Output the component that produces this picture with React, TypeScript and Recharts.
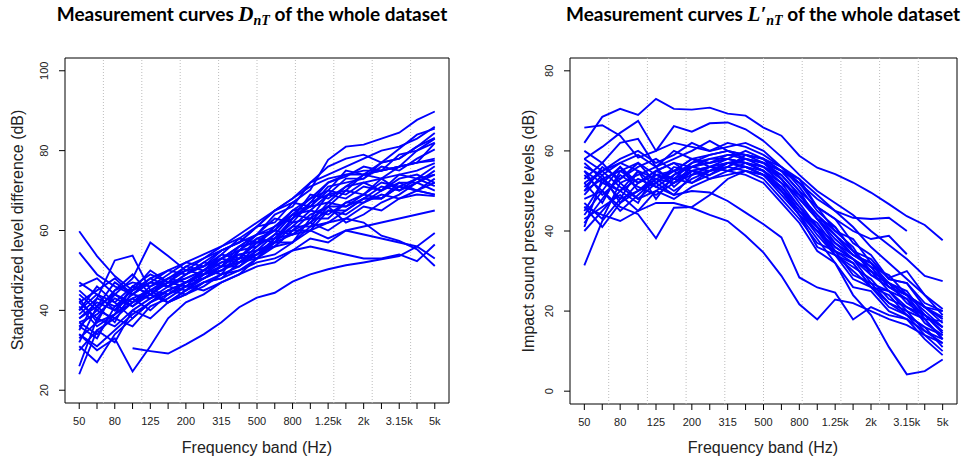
import { LineChart, Line, XAxis, YAxis, ReferenceLine, ReferenceArea } from "recharts";

// frequency bands (1/3 octave) and the ones that get a label
const bands = ["50", "63", "80", "100", "125", "160", "200", "250", "315", "400", "500", "630", "800", "1k", "1.25k", "1.6k", "2k", "2.5k", "3.15k", "4k", "5k"];
const tickLabels = ["50", "80", "125", "200", "315", "500", "800", "1.25k", "2k", "3.15k", "5k"];

const dntTicks = [20, 40, 60, 80, 100];
const lntTicks = [0, 20, 40, 60, 80];

// D_nT curves (dB)
const dnt01 = [44, 40, 45, 47, 46, 48, 50, 53, 56, 58, 61, 65, 67, 70.2, 77.7, 81, 81.5, 83, 84.5, 87.7, 89.8];
const dnt02 = [38, 42, 40, 44, 47, 46, 49, 52, 51, 56, 59, 64, 66, 72, 76, 78, 79, 77, 80.5, 84, 85.5];
const dnt03 = [36, 33, 41, 43, 45, 48, 47, 50, 54, 53, 58, 60, 65, 68, 70, 75, 74, 77, 78, 81, 84.4];
const dnt04 = [40, 44, 42, 46, 44, 47, 50, 51, 55, 57, 59, 63, 62, 67, 72, 73.5, 76, 75, 79, 80, 83];
const dnt05 = [33, 37, 39, 42, 45, 44, 47, 49, 51, 55, 56, 61, 63, 69, 68, 71, 74, 75, 76, 80, 82];
const dnt06 = [45, 41, 47, 44, 48, 50, 49, 52, 55, 57, 61, 62, 67, 66, 71, 72, 73, 76, 75, 78, 80.3];
const dnt07 = [30, 35, 38, 36, 41, 43, 46, 48, 50, 52, 55, 59, 60, 64, 66, 70, 69, 73, 74, 75, 76.9];
const dnt08 = [42, 38, 36, 40, 43, 46, 45, 48, 51, 54, 53, 58, 62, 63, 69, 68, 71, 70, 74, 73, 76.1];
const dnt09 = [37, 39, 43, 41, 45, 47, 48, 50, 49, 55, 58, 57, 63, 66, 67, 71, 72, 70, 73, 74, 71.9];
const dnt10 = [34, 31, 35, 39, 42, 44, 46, 48, 51, 51, 54, 58, 59, 62, 67, 66, 69, 72, 71, 73, 71.1];
const dnt11 = [39, 43, 41, 45, 48, 46, 49, 51, 53, 56, 57, 61, 65, 66, 70, 69, 72, 73, 70, 72, 70];
const dnt12 = [41, 36, 39, 43, 40, 44, 47, 49, 50, 53, 57, 58, 61, 65, 64, 67, 69, 68, 72, 70, 69];
const dnt13 = [36, 40, 38, 42, 44, 42, 45, 47, 49, 51, 55, 56, 60, 62, 65, 64, 67, 69, 68, 69, 68.6];
const dnt14 = [47, 44, 40, 46, 44, 48, 51, 50, 53, 55, 59, 60, 64, 65, 69, 70, 74, 73, 76, 77, 81.9];
const dnt15 = [59.8, 53.6, 48.6, 45, 47, 46, 48, 50, 52, 53, 57, 58, 63, 67, 69, 73, 73, 77, 78, 81, 83.2];
const dnt16 = [54.5, 49, 46, 44, 43, 45, 47, 48, 50, 53, 54, 57, 61, 61, 66, 66, 68, 71, 70, 73, 74];
const dnt17 = [34, 30, 33, 24.7, 31, 38, 42, 44, 47, 49, 53, 54, 57, 61, 62, 65, 68, 68, 71, 70, 73];
const dnt18 = [24, 35, 32, 40, 38, 42, 44, 46, 49, 50, 53, 57, 57, 63, 63, 67, 67, 70, 72, 72, 75];
const dnt19 = [31, 27, 34, 38, 42, 45, 44, 47, 48, 52, 53, 56, 60, 60, 65, 65, 68, 68, 71, 70, 72];
const dnt20 = [38, 41, 44, 48, 57, 53.6, 50, 49, 51, 52, 54, 56, 57, 60, 62, 63, 62, 58.7, 57.4, 55.3, 51.1];
const dnt21 = [35, 43, 52.5, 53.7, 45, 42, 44, 47, 48, 50, 52, 53, 55, 56, 55, 54, 53, 53, 54, 52.3, 56.5];
const dnt22 = [null, null, null, 30.5, 29.8, 29.2, 31.5, 34, 37, 40.8, 43.2, 44.4, 47.2, 49, 50.3, 51.3, 52, 52.8, 53.6, 56, 59.4];
const dnt23 = [43, 37, 45, 49, 44, 47, 46, 45, 47, 49, 51, 52, 55, 58, 57, 60, 59, 58, 57, 56, 53];
const dnt24 = [26, 38, 44, 42, 46, 49, 52, 54, 56, 59, 62, 65, 68, 71, 73, 74, 75, 75, 76, 77, 77.5];
const dnt25 = [40, 46, 42, 38, 42, 45, 47, 49, 52, 54, 55, 57, 59, 60, 58, 60, 61, 62, 63, 64, 65];
const dnt26 = [46, 48, 44, 41, 44, 42, 45, 49, 53, 56, 59, 61, 64, 68, 72, 74, 74, 75, 76, 77, 78];
const dnt27 = [32, 41, 37, 45, 50, 47, 51, 53, 55, 57, 61, 65, 68, 72, 74, 76, 78, 80, 81, 83, 86];
const dnt28 = [42, 45, 48, 44, 47, 50, 52, 51, 54, 58, 57, 60, 59, 62, 60, 63, 66, 65, 68, 70, 69];
const dnt29 = [37, 34, 39, 46, 49, 47, 46, 50, 53, 52, 56, 59, 64, 63, 66, 62, 64, 67, 69, 72, 74];

// L'_nT curves (dB)
const lnt01 = [62, 68.5, 70.5, 69, 73, 70.5, 70.3, 70.8, 69.3, 68.8, 65.8, 63.8, 58.8, 55.8, 54.2, 52.1, 49.6, 46.7, 43.7, 41.5, 37.7];
const lnt02 = [65.8, 66.4, 63.8, 58.3, 60, 66.2, 64.8, 66.9, 67.1, 65.4, 62.5, 58.5, 54, 50, 47, 44, 40, 36.5, 33, 28.8, 27.5];
const lnt03 = [58, 61, 64.5, 67.5, 60, 62, 61, 60, 61, 62, 60, 56, 52, 48, 45, 43.3, 43, 43.3, 40, null, null];
const lnt04 = [52, 55, 57, 59, 56, 58, 60, 62.5, 60, 59, 58, 55, 50, 46, 43, 40, 38, 38.8, 34.2, null, null];
const lnt05 = [50, 53, 55, 52, 54, 55, 56, 57, 58, 57, 55, 50, 44, 38, 32, 24, 19, 11, 4.2, 5, 7.9];
const lnt06 = [31.4, 42.5, 48, 50, 53, 52, 55, 56, 57, 56, 54, 50, 45, 40, 36, 33, 29, 26, 23, 19, 16];
const lnt07 = [48, 50, 46, 44.2, 38.2, 45.8, 46, 49, 53, 55, 54, 51, 46, 41, 37, 33, 30, 27, 24, 21, 18];
const lnt08 = [46, 44, 42.5, 45, 47, 47, 45.8, 44, 42.5, 38.8, 34.6, 28.8, 21.7, 17.9, 22.9, 22, 20, 18, 16.5, 14, 12];
const lnt09 = [55, 52, 50, 53, 51, 49, 50, 49.6, 47.5, 44.6, 41.7, 38.4, 28.4, 25.9, 24.6, 17.9, 21, 19, 18, 15, 13];
const lnt10 = [54, 50, 56, 52, 55, 57, 56, 58, 59, 58, 57, 53, 48, 43, 37, 34, 31, 26, 24, 21, 17];
const lnt11 = [50, 56, 53, 57, 52, 55, 58, 57, 58, 60, 58, 56, 51, 45, 41, 35, 31, 29, 24, 21, 18.5];
const lnt12 = [45, 52, 56, 50, 54, 53, 55, 56, 57, 57, 55, 52, 46, 41, 35, 33, 27, 25, 23, 17, 14];
const lnt13 = [57, 53, 48, 55, 51, 54, 56, 55, 56, 58, 57, 55, 53, 46, 43, 37, 34, 28, 27, 22, 20];
const lnt14 = [42, 48, 54, 51, 49, 52, 54, 55, 57, 56, 55, 50, 44, 40, 34, 31, 28, 23, 21, 18, 13];
const lnt15 = [40, 45, 50, 55, 53, 50, 53, 55, 56, 55, 53, 48, 43, 37, 35, 29, 27, 22, 20, 15, 12];
const lnt16 = [53, 57, 52, 48, 50, 53, 57, 58, 58, 57, 56, 54, 49, 44, 40, 36, 29, 27, 22, 19, 15];
const lnt17 = [47, 43, 52, 54, 56, 51, 55, 54, 56, 59, 58, 55, 52, 46, 40, 38, 32, 27, 25, 19, 16];
const lnt18 = [56, 54, 47, 52, 55, 57, 54, 56, 55, 56, 54, 51, 45, 42, 36, 33, 30, 25, 21, 19, 14.5];
const lnt19 = [44, 50, 45, 49, 53, 55, 52, 54, 57, 58, 57, 55, 50, 43, 38, 34, 32.1, 28.3, 30, 24, 19];
const lnt20 = [52, 47, 55, 57, 54, 52, 56, 57, 59, 59, 58, 53, 47, 41, 34, 32, 26, 24, 19, 16, 11];
const lnt21 = [58, 55, 51, 48, 52, 56, 55, 53, 55, 57, 56, 53, 48, 43, 39, 34, 32, 26, 24, 18, 17.5];
const lnt22 = [43, 46, 49, 45, 50, 48, 51, 53, 54, 55, 54, 49, 44, 36, 34, 28, 26, 21, 19, 14, 10];
const lnt23 = [49, 54, 57, 55, 48, 54, 57, 59, 60, 58, 56, 52, 49, 43, 41, 35, 33, 28, 27, 21, 20];
const lnt24 = [55, 49, 53, 56, 58, 55, 58, 56, 58, 57, 55, 51, 45, 41, 35, 32, 26, 25, 20, 18, 13];
const lnt25 = [51, 55, 58, 60, 57, 59, 62, 60, 62, 61, 59, 56, 53, 49, 45, 41, 36, 32, 28, 24, 20.5];
const lnt26 = [46, 41, 47, 50, 52, 49, 54, 56, 55, 54, 52, 47, 42, 35, 32, 26, 25, 20, 18, 13, 9];
const lnt27 = [60, 57, 62, 63, 56, 60, 58, 59, 60, 59, 57, 54, 49, 44, 39, 35, 30, 27, 24, 20, 16];
const lnt28 = [41, 53, 50, 47, 55, 53, 52, 55, 57, 56, 54, 50, 45, 39, 34, 30, 26, 22, 19, 16, 14];

const dntSeries = [dnt01, dnt02, dnt03, dnt04, dnt05, dnt06, dnt07, dnt08, dnt09, dnt10, dnt11, dnt12, dnt13, dnt14, dnt15, dnt16, dnt17, dnt18, dnt19, dnt20, dnt21, dnt22, dnt23, dnt24, dnt25, dnt26, dnt27, dnt28, dnt29];
const lntSeries = [lnt01, lnt02, lnt03, lnt04, lnt05, lnt06, lnt07, lnt08, lnt09, lnt10, lnt11, lnt12, lnt13, lnt14, lnt15, lnt16, lnt17, lnt18, lnt19, lnt20, lnt21, lnt22, lnt23, lnt24, lnt25, lnt26, lnt27, lnt28];

const toRows = (series: (number | null)[][]) =>
  bands.map((b, idx) => {
    const row: Record<string, any> = { i: idx + 1, band: b };
    series.forEach((s, k) => (row[`c${k}`] = s[idx]));
    return row;
  });

// R-style axis ranges (4% padding)
const X_MIN = 0.2;
const X_MAX = 21.8;
const gridX = Array.from({ length: 9 }, (_, k) => X_MIN + ((X_MAX - X_MIN) * (k + 1)) / 10);
const xTicks = bands.map((_, idx) => idx + 1);

const AXIS_FONT = "'Liberation Sans', Arial, Helvetica, sans-serif";

const YTick = ({ x, y, payload }: any) => (
  <text
    transform={`translate(${x - 9},${y}) rotate(-90)`}
    textAnchor="middle"
    fontSize={11}
    fill="#222"
    fontFamily={AXIS_FONT}
  >
    {payload.value}
  </text>
);

type PanelProps = {
  series: (number | null)[][];
  yDomain: [number, number];
  yTicks: number[];
  yAxisWidth: number;
  rightMargin: number;
  xAxisHeight: number;
};

const Panel = ({ series, yDomain, yTicks, yAxisWidth, rightMargin, xAxisHeight }: PanelProps) => {
  const rows = toRows(series);
  return (
    <LineChart width={484} height={462} data={rows} margin={{ top: 58, right: rightMargin, bottom: 0, left: 0 }}>
      <XAxis
        dataKey="i"
        type="number"
        domain={[X_MIN, X_MAX]}
        ticks={xTicks}
        interval={0}
        allowDataOverflow
        height={xAxisHeight}
        axisLine={false}
        tickLine={{ stroke: "#000" }}
        tickSize={6}
        tickMargin={8}
        tick={{ fontSize: 11, fill: "#222", fontFamily: AXIS_FONT }}
        tickFormatter={(v: number) => (tickLabels.includes(bands[v - 1]) ? bands[v - 1] : "")}
      />
      <YAxis
        type="number"
        domain={yDomain}
        ticks={yTicks}
        allowDataOverflow
        width={yAxisWidth}
        axisLine={false}
        tickLine={{ stroke: "#000" }}
        tickSize={6}
        tickMargin={2}
        tick={<YTick />}
      />
      {gridX.map((gx) => (
        <ReferenceLine key={gx} x={gx} stroke="#bdbdbd" strokeDasharray="1 2" strokeWidth={1} />
      ))}
      {series.map((_, k) => (
        <Line
          key={k}
          type="linear"
          dataKey={`c${k}`}
          stroke="#0000FF"
          strokeWidth={1.9}
          dot={false}
          activeDot={false}
          connectNulls={false}
          isAnimationActive={false}
        />
      ))}
      <ReferenceArea x1={X_MIN} x2={X_MAX} y1={yDomain[0]} y2={yDomain[1]} fill="none" stroke="#000" strokeWidth={1} />
    </LineChart>
  );
};

const TITLE_FONT = "Lato, 'Open Sans', sans-serif";
const MATH_FONT = "'Liberation Serif', 'DejaVu Serif', serif";

export default function App() {
  return (
    <div style={{ position: "absolute", left: 0, top: 0, width: 968, height: 462, background: "#fff" }}>
      <div style={{ position: "absolute", left: 0, top: 0 }}>
        <Panel series={dntSeries} yDomain={[16.8, 103.2]} yTicks={dntTicks} yAxisWidth={65} rightMargin={35} xAxisHeight={59} />
      </div>
      <div style={{ position: "absolute", left: 484, top: 0 }}>
        <Panel series={lntSeries} yDomain={[-3.2, 83.2]} yTicks={lntTicks} yAxisWidth={86} rightMargin={11} xAxisHeight={58} />
      </div>
      <svg width={968} height={462} style={{ position: "absolute", left: 0, top: 0, pointerEvents: "none" }}>
        <text x={252} y={21} textAnchor="middle" fontFamily={TITLE_FONT} fontWeight={700} fontSize={19} fill="#000">
          {"Measurement curves "}
          <tspan fontFamily={MATH_FONT} fontStyle="italic" fontSize={21}>D</tspan>
          <tspan fontFamily={MATH_FONT} fontStyle="italic" fontSize={14} dy={4}>nT</tspan>
          <tspan dy={-4}>{" of the whole dataset"}</tspan>
        </text>
        <text x={763} y={21} textAnchor="middle" fontFamily={TITLE_FONT} fontWeight={700} fontSize={19} fill="#000">
          {"Measurement curves "}
          <tspan fontFamily={MATH_FONT} fontStyle="italic" fontSize={21}>L′</tspan>
          <tspan fontFamily={MATH_FONT} fontStyle="italic" fontSize={14} dy={4}>nT</tspan>
          <tspan dy={-4}>{" of the whole dataset"}</tspan>
        </text>
        <text x={257} y={453} textAnchor="middle" fontFamily={AXIS_FONT} fontSize={16} fill="#222">
          Frequency band (Hz)
        </text>
        <text x={763} y={453} textAnchor="middle" fontFamily={AXIS_FONT} fontSize={16} fill="#222">
          Frequency band (Hz)
        </text>
        <text transform="translate(23,230) rotate(-90)" textAnchor="middle" fontFamily={AXIS_FONT} fontSize={16} fill="#222">
          Standardized level difference (dB)
        </text>
        <text transform="translate(534,231) rotate(-90)" textAnchor="middle" fontFamily={AXIS_FONT} fontSize={16} fill="#222">
          Impact sound pressure levels (dB)
        </text>
      </svg>
    </div>
  );
}
